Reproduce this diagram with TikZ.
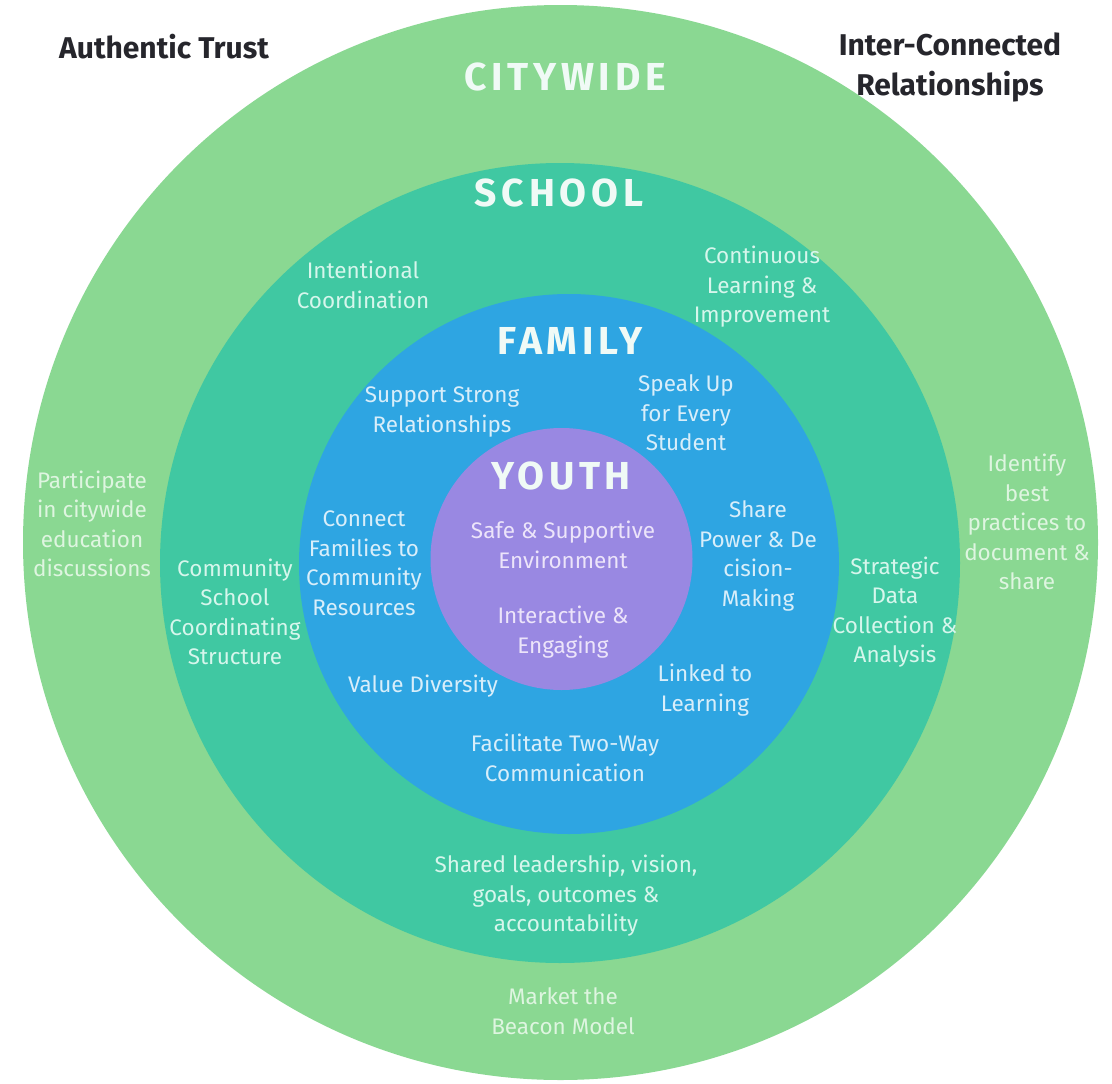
\documentclass[tikz,border=0pt]{standalone}
\usepackage{fontspec}
\setmainfont{Fira Sans}
\usetikzlibrary{positioning}
\definecolor{CityGreen}{RGB}{138,216,146}
\definecolor{SchoolTeal}{RGB}{64,200,162}
\definecolor{FamilyBlue}{RGB}{46,165,226}
\definecolor{YouthPurple}{RGB}{153,136,226}
\definecolor{TitleWhite}{RGB}{240,250,246}
\definecolor{CityInk}{RGB}{222,245,224}
\definecolor{SchoolInk}{RGB}{214,246,236}
\definecolor{FamilyInk}{RGB}{216,238,250}
\definecolor{YouthInk}{RGB}{236,228,250}
\definecolor{CornerInk}{RGB}{38,38,44}
\begin{document}
\begin{tikzpicture}[x=1pt, y=-1pt,
  ring/.style={circle, inner sep=0pt, outer sep=0pt},
  title/.style={font={\fontsize{39}{42}\selectfont\bfseries\addfontfeature{LetterSpace=12}},
                text=TitleWhite, inner sep=0pt},
  note/.style={align=center, font=\fontsize{22.5}{29.5}\selectfont, inner sep=0pt},
  corner/.style={align=center, font=\fontsize{30}{40}\selectfont\bfseries, text=CornerInk, inner sep=0pt},
]
\useasboundingbox[fill=white] (0,0) rectangle (1112,1084);
%% Rings
\node[ring, fill=CityGreen,   minimum size=1075pt] (city)   at (560.5,542.5) {};
\node[ring, fill=SchoolTeal,  minimum size=800pt]  (school) at (560,563) {};
\node[ring, fill=FamilyBlue,  minimum size=540pt]  (family) at (569,564) {};
\node[ring, fill=YouthPurple, minimum size=262pt]  (youth)  at (561.5,559) {};
%% Ring titles
\node[title] (cityT)   at (565,77)  {CITYWIDE};
\node[title] (schoolT) at (559,193) {SCHOOL};
\node[title] (familyT) at (570,341) {FAMILY};
\node[title] (youthT)  at (561,476) {YOUTH};
%% Corner labels
\node[corner] (trust) at (164,47) {Authentic Trust};
\node[corner] (links) at (950,67) {Inter-Connected\\Relationships};
%% Citywide ring
\node[note, text=CityInk] (discuss)  at (92,524)   {Participate\\in citywide\\education\\discussions};
\node[note, text=CityInk] (practice) at (1027,522) {Identify\\best\\practices to\\document \&\\share};
\node[note, text=CityInk] (market)   at (563,1011) {Market the\\Beacon Model};
%% School ring
\node[note, text=SchoolInk] (coord)    at (363,285) {Intentional\\Coordination};
\node[note, text=SchoolInk] (improve)  at (762,287) {Continuous\\Learning \&\\Improvement};
\node[note, text=SchoolInk] (struct)   at (235,612) {Community\\School\\Coordinating\\Structure};
\node[note, text=SchoolInk] (data)     at (895,612) {Strategic\\Data\\Collection \&\\Analysis};
\node[note, text=SchoolInk] (leader)   at (566,896) {Shared leadership, vision,\\goals, outcomes \&\\accountability};
%% Family ring
\node[note, text=FamilyInk] (support)  at (442,412) {Support Strong\\Relationships};
\node[note, text=FamilyInk] (speak)    at (686,413) {Speak Up\\for Every\\Student};
\node[note, text=FamilyInk] (connect)  at (364,563) {Connect\\Families to\\Community\\Resources};
\node[note, text=FamilyInk] (power)    at (758,556) {Share\\Power \& De\\cision-\\Making};
\node[note, text=FamilyInk] (diverse)  at (423,686) {Value Diversity};
\node[note, text=FamilyInk] (linked)   at (705,690) {Linked to\\Learning};
\node[note, text=FamilyInk] (twoway)   at (565,758) {Facilitate Two-Way\\Communication};
%% Youth core
\node[note, text=YouthInk] (safe)     at (563,545) {Safe \& Supportive\\Environment};
\node[note, text=YouthInk] (engage)   at (563,632) {Interactive \&\\Engaging};
\end{tikzpicture}
\end{document}
